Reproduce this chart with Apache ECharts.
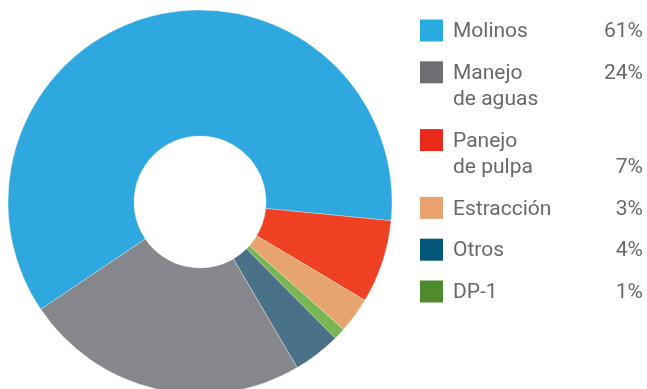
<!DOCTYPE html>
<html>
<head>
<meta charset="utf-8">
<script src="https://cdn.jsdelivr.net/npm/echarts@6/dist/echarts.min.js"></script>
<style>
  html, body { margin: 0; padding: 0; background: #ffffff; }
  #chart { width: 647px; height: 389px; }
</style>
</head>
<body>
<div id="chart"></div>
<script>
// Categories in legend order, with their shares (%)
const categories = ['Molinos', 'Manejo\nde aguas', 'Panejo\nde pulpa', 'Estracción', 'Otros', 'DP-1'];
const shares = [61, 24, 7, 3, 4, 1];
const shareLabels = ['61%', '24%', '7%', '3%', '4%', '1%'];

// Order in which the slices run clockwise around the ring (indices into categories)
const sliceOrder = [0, 2, 3, 5, 4, 1];

// Colours: ring slices and legend swatches
const sliceColors = ['#2ea8df', '#86878c', '#ef4023', '#e8a46f', '#4b7189', '#79b553'];
const swatchColors = ['#29abe2', '#6d6e71', '#e8291c', '#e8a36f', '#00577a', '#4e8b2e'];

const chart = echarts.init(document.getElementById('chart'), null, { renderer: 'canvas' });

const pieData = sliceOrder.map(i => ({
  name: categories[i],
  value: shares[i],
  itemStyle: { color: sliceColors[i] }
}));

// Legend drawn as swatches + labels + right-aligned percentages
const FONT = '21px Roboto';
const TEXT_COLOR = '#68696b';
const LINE_H = 26;
const graphics = [];
let yc = 30.5;
categories.forEach((name, i) => {
  const lines = name.split('\n').length;
  graphics.push({
    type: 'rect',
    shape: { x: 420, y: yc - 11, width: 23, height: 22 },
    style: { fill: swatchColors[i] },
    silent: true
  });
  graphics.push({
    type: 'text',
    x: 453, y: yc - LINE_H / 2 + 1.5,
    style: {
      text: name, font: FONT, fill: TEXT_COLOR, lineHeight: LINE_H,
      align: 'left', verticalAlign: 'top'
    },
    silent: true
  });
  // the Panejo share sits on the second line of its label
  const pctText = (i === 2 ? '\n' : '') + shareLabels[i];
  graphics.push({
    type: 'text',
    x: 643, y: yc - LINE_H / 2 + 1.5,
    style: {
      text: pctText, font: FONT, fill: TEXT_COLOR, lineHeight: LINE_H,
      align: 'right', verticalAlign: 'top'
    },
    silent: true
  });
  yc += 41.8 + (lines - 1) * 26;
});

chart.setOption({
  animation: false,
  series: [{
    type: 'pie',
    center: [200, 202],
    radius: [66, 192],
    startAngle: 214,
    clockwise: true,
    label: { show: false },
    labelLine: { show: false },
    emphasis: { disabled: true },
    itemStyle: { borderColor: 'rgba(255,255,255,0.6)', borderWidth: 0.5 },
    data: pieData
  }],
  graphic: graphics
});
</script>
</body>
</html>
